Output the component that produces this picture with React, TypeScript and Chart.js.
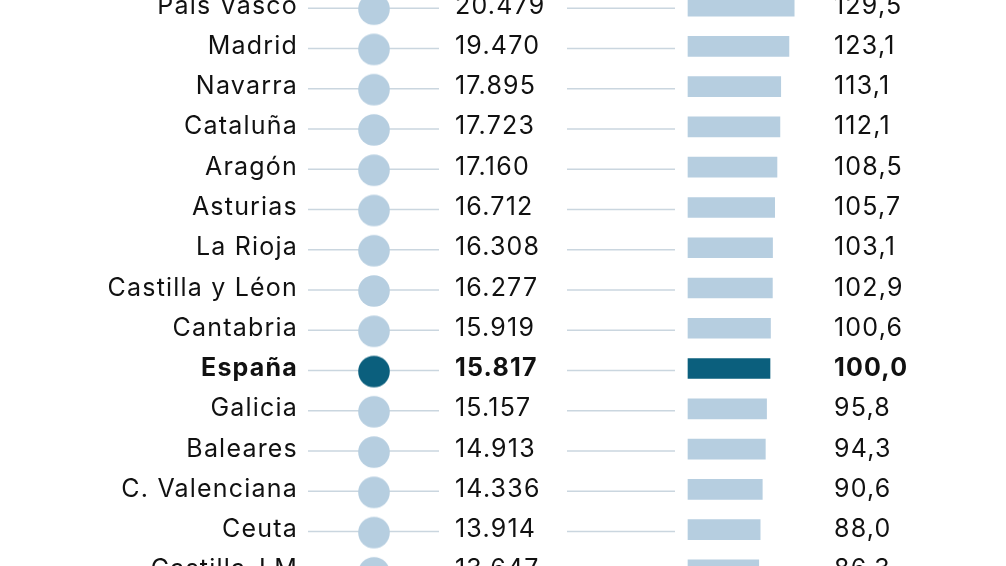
import React, { useEffect, useRef } from 'react';
import { Chart, registerables } from 'chart.js';

Chart.register(...registerables);

// ---------- data ----------
const regions = [
  'País Vasco', 'Madrid', 'Navarra', 'Cataluña', 'Aragón', 'Asturias', 'La Rioja',
  'Castilla y Léon', 'Cantabria', 'España', 'Galicia', 'Baleares', 'C. Valenciana',
  'Ceuta', 'Castilla-LM',
];
const salaries = [
  20479, 19470, 17895, 17723, 17160, 16712, 16308, 16277, 15919, 15817, 15157, 14913,
  14336, 13914, 13647,
];
const indexValues = [
  129.5, 123.1, 113.1, 112.1, 108.5, 105.7, 103.1, 102.9, 100.6, 100.0, 95.8, 94.3,
  90.6, 88.0, 86.3,
];
const dotColumn = regions.map(() => 0);
const highlight = 'España';

// ---------- style ----------
const LIGHT = '#b6cee0';
const DARK = '#0b5f7d';
const LINE = '#cad6df';
const TEXT = '#111111';
const FONT = 'Inter, "Noto Sans", sans-serif';
const FONT_SIZE = 25;
const LETTER_SPACING = '1.2px';

const CANVAS_W = 1006;
const CANVAS_H = 604;
const CANVAS_TOP = -14;
const AREA_LEFT = 308;
const LABEL_RIGHT = 298;
const VALUE_X = 455;
const INDEX_X = 834;
const LEFT_LINE_END = 439;
const RIGHT_LINE_START = 567;
const RIGHT_LINE_END = 675;
const LINE_SHIFT = 2;

function fmtThousands(n: number): string {
  return String(n).replace(/\B(?=(\d{3})+(?!\d))/g, '.');
}
function fmtIndex(n: number): string {
  return n.toFixed(1).replace('.', ',');
}

function makeDot(color: string): HTMLCanvasElement {
  const c = document.createElement('canvas');
  c.width = 34;
  c.height = 40;
  const g = c.getContext('2d')!;
  g.fillStyle = color;
  g.beginPath();
  g.arc(17, 23, 15.8, 0, Math.PI * 2);
  g.fill();
  return c;
}

const overlayPlugin = {
  id: 'overlay',
  beforeDatasetsDraw(chart: any) {
    const ctx = chart.ctx;
    const y = chart.scales.y;
    ctx.save();
    ctx.strokeStyle = LINE;
    ctx.lineWidth = 1.5;
    regions.forEach((_, i) => {
      const py = y.getPixelForValue(i) + LINE_SHIFT;
      ctx.beginPath();
      ctx.moveTo(chart.chartArea.left, py);
      ctx.lineTo(LEFT_LINE_END, py);
      ctx.moveTo(RIGHT_LINE_START, py);
      ctx.lineTo(RIGHT_LINE_END, py);
      ctx.stroke();
    });
    ctx.restore();
  },
  afterDatasetsDraw(chart: any) {
    const ctx = chart.ctx;
    const y = chart.scales.y;
    ctx.save();
    ctx.fillStyle = TEXT;
    ctx.textBaseline = 'middle';
    (ctx as any).letterSpacing = LETTER_SPACING;
    regions.forEach((r, i) => {
      const py = y.getPixelForValue(i);
      const bold = r === highlight;
      ctx.font = `${bold ? 'bold ' : ''}${FONT_SIZE}px ${FONT}`;
      ctx.textAlign = 'right';
      ctx.fillText(r, LABEL_RIGHT, py);
      ctx.textAlign = 'left';
      ctx.fillText(fmtThousands(salaries[i]), VALUE_X, py);
      ctx.fillText(fmtIndex(indexValues[i]), INDEX_X, py);
    });
    ctx.restore();
  },
};

export default function App() {
  const ref = useRef<HTMLCanvasElement | null>(null);

  useEffect(() => {
    if (!ref.current) return;
    const lightDot = makeDot(LIGHT);
    const darkDot = makeDot(DARK);
    const chart = new Chart(ref.current, {
      type: 'bar',
      data: {
        labels: regions,
        datasets: [
          {
            type: 'line',
            label: 'Salario',
            data: dotColumn,
            xAxisID: 'xDot',
            indexAxis: 'y',
            showLine: false,
            pointStyle: (c: any) => (regions[c.dataIndex] === highlight ? darkDot : lightDot),
            pointRadius: 16,
            order: 1,
          } as any,
          {
            type: 'bar',
            label: 'Índice',
            data: indexValues,
            xAxisID: 'x',
            backgroundColor: regions.map((r) => (r === highlight ? DARK : LIGHT)),
            barThickness: 20,
            borderWidth: 0,
            order: 2,
          },
        ],
      },
      options: {
        animation: false,
        responsive: false,
        indexAxis: 'y',
        layout: { padding: { left: AREA_LEFT, top: 0, right: 0, bottom: 0 }, autoPadding: false },
        plugins: { legend: { display: false }, tooltip: { enabled: false } },
        scales: {
          y: {
            type: 'category',
            display: false,
            offset: true,
          },
          x: { type: 'linear', display: false, min: -463.4, max: 387.8 },
          xDot: { type: 'linear', display: false, min: -66, max: 632 },
        },
      } as any,
      plugins: [overlayPlugin],
    });
    return () => chart.destroy();
  }, []);

  return (
    <div
      style={{
        position: 'fixed',
        left: 0,
        top: 0,
        width: CANVAS_W,
        height: 566,
        overflow: 'hidden',
        background: '#fff',
      }}
    >
      <canvas
        ref={ref}
        width={CANVAS_W}
        height={CANVAS_H}
        style={{ position: 'absolute', left: 0, top: CANVAS_TOP, width: CANVAS_W, height: CANVAS_H }}
      />
    </div>
  );
}
